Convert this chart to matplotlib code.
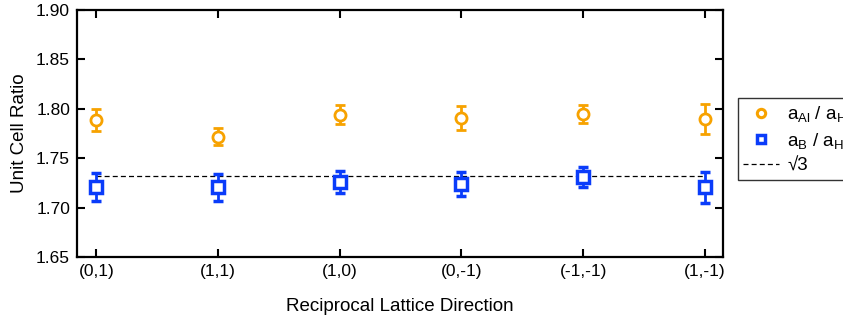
import matplotlib
matplotlib.use("Agg")
from matplotlib import pyplot as plt
from matplotlib.lines import Line2D
import numpy as np

plt.rcParams['font.family'] = ['Liberation Sans', 'DejaVu Sans']
plt.rcParams['mathtext.fontset'] = 'custom'
plt.rcParams['mathtext.rm'] = 'Liberation Sans'
plt.rcParams['mathtext.default'] = 'regular'

# data
directions = ['(0,1)', '(1,1)', '(1,0)', '(0,-1)', '(-1,-1)', '(1,-1)']
ratio_al = [1.789, 1.772, 1.794, 1.791, 1.795, 1.790]
err_al = [0.011, 0.009, 0.0095, 0.012, 0.009, 0.015]
ratio_b = [1.721, 1.7205, 1.726, 1.724, 1.731, 1.7205]
err_b = [0.014, 0.014, 0.011, 0.012, 0.0105, 0.0155]
sqrt3 = np.sqrt(3)

orange = '#F7A200'
blue = '#0A3CFA'

fig = plt.figure(figsize=(8.43, 3.25), dpi=100)
ax = fig.add_axes([0.0913, 0.209, 0.7664, 0.760])

x = np.arange(len(directions))
ax.errorbar(x, ratio_al, yerr=err_al, fmt='o', ms=8, mfc='white', mec=orange,
            mew=2, ecolor=orange, elinewidth=2, capsize=3.5, capthick=2,
            zorder=3)
ax.errorbar(x, ratio_b, yerr=err_b, fmt='s', ms=8, mfc='white', mec=blue,
            mew=2.5, ecolor=blue, elinewidth=2, capsize=3.5, capthick=2,
            zorder=3)
ax.plot([x[0], x[-1]], [sqrt3, sqrt3], '--', color='black', lw=0.9,
        dashes=(4, 2.5), zorder=2)

ax.set_xlim(-0.16, 5.15)
ax.set_ylim(1.65, 1.90)
ax.set_xticks(x)
ax.set_xticklabels(directions)
yt = np.arange(1.65, 1.901, 0.05)
ax.set_yticks(yt)
ax.set_yticklabels(['%.2f' % v for v in yt])
ax.tick_params(direction='in', length=6, width=1.5, top=True, right=True,
               labelsize=12.5, pad=5)
for s in ax.spines.values():
    s.set_linewidth(1.6)

ax.set_xlabel('Reciprocal Lattice Direction', fontsize=13.5, labelpad=14)
ax.set_ylabel('Unit Cell Ratio', fontsize=13.5, labelpad=6)

# legend with plain markers, no error bars
handles = [
    Line2D([], [], ls='none', marker='o', ms=6, mfc='white', mec=orange, mew=2.2),
    Line2D([], [], ls='none', marker='s', ms=6, mfc='white', mec=blue, mew=2.5),
    Line2D([], [], ls='--', color='black', lw=0.9, dashes=(4, 2.5)),
]
labels = [r'a$_{Al}$ / a$_{H}$', r'a$_{B}$ / a$_{H}$', '\u221a3']
leg = fig.legend(handles, labels, loc='upper left', bbox_to_anchor=(0.875, 0.697),
                 frameon=True, fancybox=False, fontsize=13.5,
                 handlelength=1.9, borderaxespad=0, borderpad=0.3,
                 labelspacing=0.35, handletextpad=0.45)
leg.get_frame().set_edgecolor('black')
leg.get_frame().set_linewidth(1.0)

fig.savefig('out.png', dpi=100)
